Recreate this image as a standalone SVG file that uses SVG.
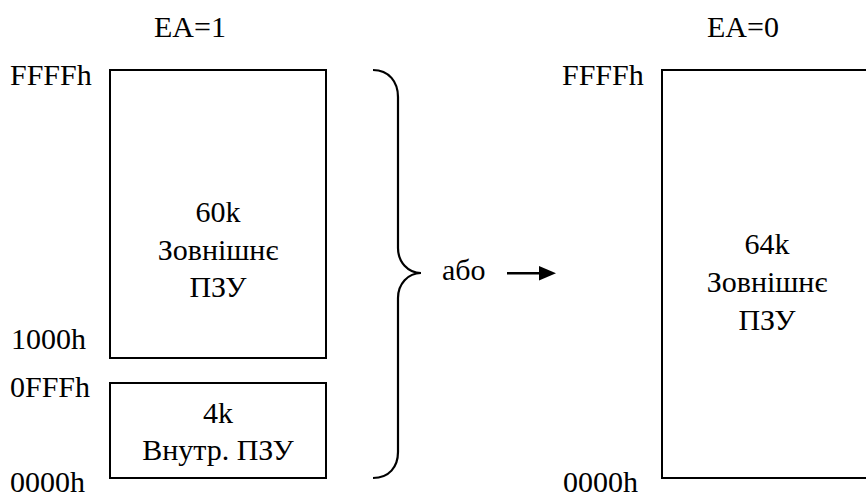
<svg xmlns="http://www.w3.org/2000/svg" width="866" height="495" viewBox="0 0 866 495">
<style>
.c{text-anchor:middle}
.box{fill:#fff;stroke:#000;stroke-width:2}
.ln{fill:none;stroke:#000;stroke-width:2.2}
</style>
<rect width="866" height="495" fill="#fff"/>
<g font-family="'Liberation Serif', 'Times New Roman', Times, Tinos, 'Noto Serif', 'DejaVu Serif', FreeSerif, serif" font-size="30" fill="#000">
<text x="190" y="37" class="c">EA=1</text>
<text x="743" y="37" class="c">EA=0</text>
<text x="10" y="85">FFFFh</text>
<text x="11" y="349">1000h</text>
<text x="10" y="397">0FFFh</text>
<text x="10" y="492">0000h</text>
<text x="562" y="85">FFFFh</text>
<text x="563" y="492">0000h</text>
<g id="ext60">
<rect class="box" x="110" y="70" width="216" height="288"/>
<text x="218" y="222" class="c">60k</text>
<text x="218" y="259.5" class="c">Зовнішнє</text>
<text x="218" y="297" class="c">ПЗУ</text>
</g>
<g id="int4">
<rect class="box" x="110" y="383" width="216" height="95"/>
<text x="218" y="423" class="c">4k</text>
<text x="218" y="460" class="c">Внутр. ПЗУ</text>
</g>
<g id="ext64">
<rect class="box" x="662" y="70" width="230" height="408"/>
<text x="767" y="254" class="c">64k</text>
<text x="767" y="292" class="c">Зовнішнє</text>
<text x="767" y="330" class="c">ПЗУ</text>
</g>
<g id="connectors">
<path class="ln" d="M373,70 C389,70 398,82 398,97 L398,248 C398,262 408,273 421,273 C408,273 398,284 398,298 L398,452 C398,467 389,478 373,478"/>
<text x="442" y="280">або</text>
<line x1="507" y1="273.3" x2="541" y2="273.3" stroke="#000" stroke-width="2.5"/>
<path d="M539,266 L556,273.3 L539,280.5 Z" fill="#000"/>
</g>
</g>
</svg>
